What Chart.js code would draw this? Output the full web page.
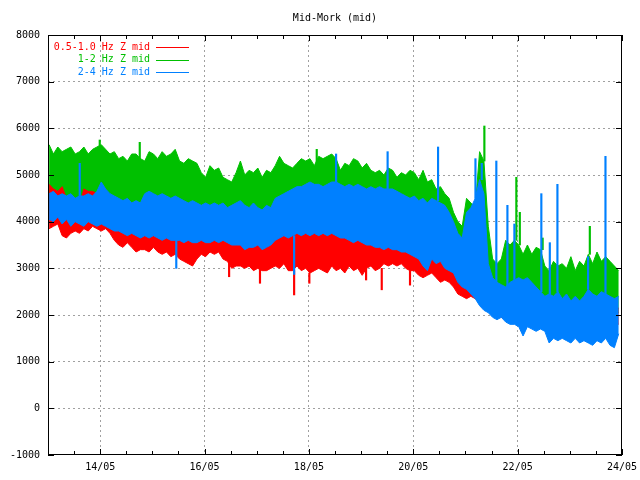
<!DOCTYPE html>
<html>
<head>
<meta charset="utf-8">
<script src="https://cdn.jsdelivr.net/npm/chart.js@4/dist/chart.umd.min.js"></script>
<style>
  body { margin: 0; background: #fff; }
  canvas { display: block; background: #fff; }
</style>
</head>
<body>
<canvas id="mid" width="640" height="480"></canvas>
<script>
// each value covers a 2 hour slice, starting 13/05 00:00
// lo/hi = bottom and top of the dense trace inside that slice
const binHours = 2;

const greenHi = [
  5650, 5450, 5600, 5500, 5550, 5600, 5450, 5500, 5600, 5450, 5550, 5600, 5650, 5550, 5450, 5500, 5350, 5400, 5300, 5450, 5450, 5350,
  5300, 5500, 5450, 5350, 5500, 5400, 5450, 5550, 5300, 5250, 5350, 5300, 5250, 5050, 4950, 5200, 5100, 5150, 4950, 4900, 4850, 5050,
  5300, 5000, 5100, 5050, 5150, 4950, 5100, 5050, 5200, 5400, 5250, 5200, 5150, 5250, 5350, 5300, 5350, 5200, 5400, 5350, 5400, 5450,
  5350, 5100, 5250, 5200, 5350, 5300, 5150, 5250, 5100, 5050, 5100, 5000, 5150, 5100, 4950, 5050, 5000, 5100, 5050, 4900, 5100, 4850,
  4900, 4700, 4750, 4600, 4500, 4200, 4000, 3900, 4500, 4400, 4300, 5500, 5300, 3900, 3200, 3100, 3200, 3600, 3500, 3600, 3500, 3300,
  3500, 3300, 3450, 3400, 3050, 2950, 3150, 3050, 3100, 3000, 3250, 2950, 3150, 3050, 3300, 3100, 3350, 3150, 3250, 3150, 3050, 2950
];
const greenLo = [
  4250, 4300, 4250, 4300, 4250, 4300, 4200, 4250, 4200, 4250, 4200, 4250, 4300, 4250, 4150, 4100, 4100, 4050, 4100, 4050, 4050, 4000,
  4000, 4050, 4000, 3950, 4000, 4050, 3950, 4000, 3950, 3900, 3950, 3900, 3950, 3900, 3950, 3900, 3950, 3900, 3950, 3900, 3900, 3950,
  3850, 3800, 3850, 3800, 3850, 3800, 3850, 3900, 3950, 4000, 4050, 4100, 4100, 4150, 4100, 4150, 4100, 4150, 4100, 4150, 4100, 4150,
  4150, 4100, 4150, 4100, 4050, 4100, 4050, 4000, 4050, 4000, 3950, 4000, 3950, 3900, 3950, 3900, 3850, 3800, 3850, 3800, 3700, 3650,
  3700, 3600, 3600, 3500, 3450, 3350, 3200, 3100, 3300, 3300, 3300, 3300, 3100, 2600, 2450, 2400, 2350, 2400, 2400, 2400, 2400, 2350,
  2300, 2250, 2200, 2150, 2100, 2100, 2100, 2050, 2100, 2100, 2050, 2050, 2100, 2100, 2100, 2050, 2100, 2050, 2100, 2050, 2050, 2050
];

const redHi = [
  4800, 4700, 4650, 4750, 4500, 4450, 4400, 4350, 4700, 4650, 4650, 4600, 4700, 4550, 4450, 4400, 4450, 4400, 4350, 4400, 4300, 4350,
  4000, 3950, 4050, 3900, 4000, 3850, 3950, 3850, 3900, 3850, 3800, 3900, 3850, 3800, 3850, 3800, 3900, 3850, 3900, 3800, 3750, 3800,
  3950, 3850, 3800, 3850, 3800, 3750, 3800, 3850, 3900, 3950, 3900, 3850, 3900, 3950, 3900, 3850, 3900, 3850, 3950, 3900, 3850, 3900,
  3950, 3900, 4000, 3950, 3900, 3850, 3900, 3800, 3850, 3750, 3700, 3700, 3750, 3700, 3650, 3700, 3650, 3600, 3550, 3550, 3500, 3450,
  3450, 3500, 3400, 3450, 3350, 3300, 3200, 3100, 3000, 2950, 2900, 2800, 2700, 2600, 2500, 2500, 2400, 2400, 2300, 2300, 2300, 2250,
  2250, 2200, 2200, 2200, 2150, 2150, 2150, 2100, 2150, 2100, 2100, 2100, 2100, 2150, 2150, 2100, 2100, 2100, 2150, 2150, 2100, 2150
];
const redLo = [
  3850, 3900, 3950, 3700, 3650, 3750, 3800, 3750, 3850, 3800, 3900, 3850, 3800, 3850, 3750, 3600, 3500, 3450, 3550, 3450, 3350, 3400,
  3400, 3350, 3450, 3350, 3300, 3350, 3250, 3300, 3200, 3150, 3100, 3050, 3200, 3300, 3250, 3350, 3300, 3350, 3200, 3150, 3000, 3050,
  3050, 3000, 3050, 2950, 3000, 2950, 2950, 3000, 3050, 3000, 3100, 2950, 2950, 3050, 2950, 3000, 2900, 2950, 3000, 2950, 2900, 3050,
  2950, 3000, 2900, 3050, 2950, 3000, 2850, 3000, 3050, 2950, 3000, 3100, 3050, 3100, 3050, 3100, 3000, 2950, 2950, 2850, 2800, 2850,
  2900, 2800, 2700, 2750, 2700, 2600, 2450, 2400, 2350, 2400, 2350, 2300, 2150, 2100, 2050, 2000, 1950, 1900, 1850, 1850, 1800, 1800,
  1900, 1850, 1850, 1900, 1800, 1750, 1800, 1750, 1800, 1750, 1800, 1750, 1700, 1750, 1800, 1750, 1700, 1750, 1900, 1800, 1850, 1800
];

const blueHi = [
  4600, 4650, 4550, 4600, 4550, 4600, 4500, 4550, 4550, 4600, 4550, 4650, 4850, 4700, 4600, 4550, 4500, 4450, 4500, 4400, 4450, 4400,
  4600, 4650, 4600, 4550, 4600, 4550, 4500, 4550, 4500, 4450, 4400, 4450, 4400, 4350, 4400, 4350, 4400, 4350, 4400, 4300, 4350, 4400,
  4450, 4350, 4300, 4400, 4300, 4250, 4350, 4300, 4500, 4550, 4600, 4650, 4700, 4750, 4750, 4800, 4850, 4800, 4800, 4750, 4800, 4850,
  4850, 4800, 4750, 4800, 4750, 4800, 4750, 4700, 4750, 4700, 4750, 4700, 4700, 4700, 4650, 4600, 4550, 4500, 4550, 4450, 4500, 4400,
  4500, 4450, 4400, 4350, 4200, 4000, 3750, 3650, 4200, 4300, 4500, 4900, 4600, 3100, 2800, 2700, 2650, 2600, 2700, 2750, 2800, 2750,
  2800, 2700, 2600, 2500, 2400, 2450, 2400, 2500, 2350, 2450, 2300, 2400, 2300, 2400, 2550, 2450, 2400, 2500, 2450, 2400, 2350, 2400
];
const blueLo = [
  4050, 4000, 4100, 3950, 4050, 3900, 4000, 3950, 3900, 4000, 3950, 3900, 3950, 3900, 3850, 3800, 3800, 3750, 3700, 3750, 3700, 3650,
  3700, 3650, 3700, 3650, 3600, 3650, 3600, 3600, 3600, 3550, 3600, 3550, 3550, 3600, 3550, 3550, 3600, 3550, 3600, 3550, 3500, 3500,
  3500, 3400, 3450, 3450, 3500, 3400, 3450, 3500, 3600, 3650, 3700, 3650, 3700, 3750, 3700, 3750, 3700, 3750, 3700, 3750, 3700, 3750,
  3700, 3650, 3650, 3600, 3550, 3600, 3550, 3500, 3500, 3450, 3450, 3400, 3450, 3400, 3400, 3350, 3350, 3300, 3250, 3200, 3050, 2950,
  3200, 3100, 3150, 3000, 2950, 2900, 2700, 2600, 2550, 2450, 2350, 2200, 2100, 2050, 1950, 1900, 1950, 1850, 1800, 1800, 1750, 1550,
  1750, 1700, 1650, 1700, 1650, 1400, 1500, 1450, 1500, 1450, 1400, 1500, 1400, 1450, 1400, 1350, 1450, 1400, 1500, 1350, 1300, 1600
];

// single samples that stick out of the bands (hour since 13/05 00:00, value)
const blueSpikeHours = [14.6, 132.5, 156.2, 179.4, 196.6, 199.5, 206.2, 211.3, 214.5, 226.9, 230.8, 234.3, 248.4, 256.4];
const blueSpikeTops = [5250, 5450, 5500, 5600, 5350, 5250, 5300, 4350, 3950, 4600, 3550, 4800, 3250, 5400];
const blueDipHours = [59, 113.2];
const blueDipBottoms = [3000, 2870];
const greenSpikeHours = [23.8, 42.2, 123.6, 200.7, 215.4, 217, 227.5, 249.2];
const greenSpikeTops = [5750, 5700, 5550, 6050, 4950, 4200, 3650, 3900];
const redDipHours = [83.3, 97.5, 113.2, 120.2, 146.3, 153.5, 166.5];
const redDipBottoms = [2820, 2680, 2430, 2680, 2750, 2540, 2640];

const tickHours = [24, 72, 120, 168, 216, 264];
const dayLabels = ['14/05', '16/05', '18/05', '20/05', '22/05', '24/05'];

const series = [
  { name: '0.5-1.0 Hz Z mid', color: '#ff0000' },
  { name: '1-2 Hz Z mid', color: '#00c000' },
  { name: '2-4 Hz Z mid', color: '#0080ff' }
];

const FONT = 'DejaVu Sans Mono';

function toPoints(vals) {
  return vals.map((v, i) => ({ x: i * binHours + 0.5, y: v }));
}

// top edge filled down to the bottom edge -> solid band like the dense trace
function band(lo, hi, s, order) {
  return [
    { label: s.name, data: toPoints(hi), borderColor: s.color, backgroundColor: s.color, fill: '+1', order: order },
    { label: s.name + ' (lo)', data: toPoints(lo), borderColor: s.color, backgroundColor: s.color, fill: false, order: order }
  ];
}

// thin floating bars from the band edge out to the spike value
function spikes(hours, ends, edge, s, order) {
  return {
    type: 'bar',
    label: s.name + ' (spikes)',
    data: hours.map((h, i) => ({ x: h, y: [edge[Math.floor(h / binHours)], ends[i]] })),
    backgroundColor: s.color,
    borderWidth: 0,
    barThickness: 1.5,
    grouped: false,
    order: order
  };
}

// gnuplot style key: text right aligned, line sample after it
const keyPlugin = {
  id: 'key',
  afterDraw(chart) {
    const ctx = chart.ctx;
    ctx.save();
    ctx.font = '10px "' + FONT + '"';
    ctx.textAlign = 'right';
    ctx.textBaseline = 'middle';
    series.forEach((s, i) => {
      const y = 47 + i * 12.5;
      ctx.fillStyle = s.color;
      ctx.fillText(s.name, 150, y);
      ctx.strokeStyle = s.color;
      ctx.lineWidth = 1;
      ctx.beginPath();
      ctx.moveTo(156, Math.round(y) + 0.5);
      ctx.lineTo(189, Math.round(y) + 0.5);
      ctx.stroke();
    });
    ctx.restore();
  }
};

// border and inward ticks on all four sides
const framePlugin = {
  id: 'frame',
  afterDatasetsDraw(chart) {
    const { ctx, chartArea: a, scales } = chart;
    ctx.save();
    ctx.strokeStyle = '#000';
    ctx.lineWidth = 1;
    ctx.strokeRect(a.left + 0.5, a.top + 0.5, a.right - a.left - 1, a.bottom - a.top - 1);
    ctx.beginPath();
    scales.y.ticks.forEach(t => {
      const py = Math.round(scales.y.getPixelForValue(t.value)) + 0.5;
      ctx.moveTo(a.left, py); ctx.lineTo(a.left + 6, py);
      ctx.moveTo(a.right, py); ctx.lineTo(a.right - 6, py);
    });
    scales.x.ticks.forEach(t => {
      const px = Math.round(scales.x.getPixelForValue(t.value)) + 0.5;
      const len = tickHours.includes(t.value) ? 6 : 4;
      ctx.moveTo(px, a.bottom); ctx.lineTo(px, a.bottom - len);
      ctx.moveTo(px, a.top); ctx.lineTo(px, a.top + len);
    });
    ctx.stroke();
    ctx.restore();
  }
};

const gridGrey = '#a0a0a0';

new Chart(document.getElementById('mid').getContext('2d'), {
  type: 'line',
  data: {
    datasets: [
      ...band(blueLo, blueHi, series[2], 0),
      spikes(blueSpikeHours, blueSpikeTops, blueHi, series[2], 0),
      spikes(blueDipHours, blueDipBottoms, blueLo, series[2], 0),
      ...band(redLo, redHi, series[0], 1),
      spikes(redDipHours, redDipBottoms, redLo, series[0], 1),
      ...band(greenLo, greenHi, series[1], 2),
      spikes(greenSpikeHours, greenSpikeTops, greenHi, series[1], 2)
    ]
  },
  options: {
    responsive: false,
    animation: false,
    devicePixelRatio: 1,
    layout: { padding: { left: 0, right: 18, top: 0, bottom: 0 } },
    elements: {
      line: { borderWidth: 1, tension: 0 },
      point: { radius: 0, hoverRadius: 0 }
    },
    plugins: {
      legend: { display: false },
      tooltip: { enabled: false },
      title: {
        display: true,
        text: 'Mid-Mork (mid)',
        fullSize: false,
        color: '#000',
        font: { family: FONT, size: 10, weight: 'normal', lineHeight: 1.2 },
        padding: { top: 12, bottom: 11 }
      }
    },
    scales: {
      x: {
        type: 'linear',
        min: 0,
        max: 264,
        offset: false,
        afterFit(s) { s.height = 25; s.paddingLeft = 0; s.paddingRight = 0; },
        grid: {
          offset: false,
          drawTicks: false,
          color: c => (c.tick && tickHours.includes(c.tick.value) && c.tick.value < 264) ? gridGrey : 'rgba(0,0,0,0)'
        },
        border: { display: false, dash: [2, 3] },
        ticks: {
          stepSize: 12,
          autoSkip: false,
          maxRotation: 0,
          padding: 6,
          color: '#000',
          font: { family: FONT, size: 10 },
          callback: v => {
            const i = tickHours.indexOf(v);
            return i >= 0 ? dayLabels[i] : '';
          }
        }
      },
      y: {
        min: -1000,
        max: 8000,
        afterFit(s) { s.width = 48; s.paddingTop = 0; s.paddingBottom = 0; },
        grid: {
          drawTicks: false,
          color: c => (c.tick && c.tick.value > -1000 && c.tick.value < 8000) ? gridGrey : 'rgba(0,0,0,0)'
        },
        border: { display: false, dash: [2, 3] },
        ticks: {
          stepSize: 1000,
          padding: 8,
          color: '#000',
          font: { family: FONT, size: 10 },
          callback: v => String(v)
        }
      }
    }
  },
  plugins: [framePlugin, keyPlugin]
});
</script>
</body>
</html>
